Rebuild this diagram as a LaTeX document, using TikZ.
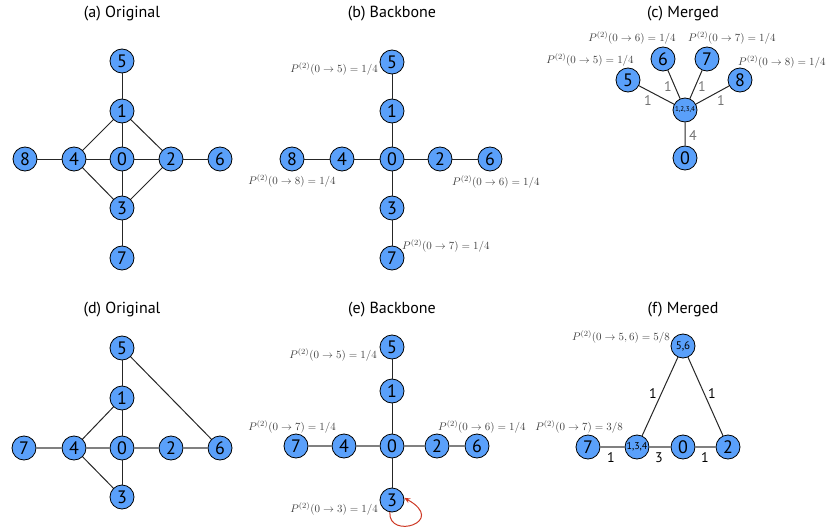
\documentclass[tikz,border=0pt]{standalone}
\usepackage{fontspec}
\setsansfont{PT Sans}
\usetikzlibrary{arrows.meta}
\definecolor{vcol}{RGB}{90,160,250}
\definecolor{loopcol}{RGB}{205,55,35}
\tikzset{
  % graph vertex
  vnode/.style={circle, draw=black, fill=vcol, line width=0.8pt, minimum size=24pt,
               inner sep=0pt, font=\sffamily\fontsize{18}{18}\selectfont},
  % merged vertex, small label
  mnode/.style={vnode, font=\sffamily\fontsize{#1}{#1}\selectfont},
  mnode/.default={9},
  % plain edge
  edge/.style={line width=1pt, black!85},
  % backbone edge
  hedge/.style={line width=2pt, black!50},
  % panel title
  ptitle/.style={font=\sffamily\fontsize{16}{16}\selectfont},
  % probability label
  plabel/.style={font=\fontsize{11}{11}\selectfont, text=black!75, inner sep=0pt},
  % edge weight
  wlabel/.style={font=\sffamily\fontsize{14}{14}\selectfont, inner sep=0pt, #1},
  wlabel/.default={black},
}

\begin{document}
\begin{tikzpicture}[x=1pt, y=-1pt]
  \useasboundingbox (0,0) rectangle (828,527);

  % ---- (a) original
  \node[ptitle] (ta) at (122,14) {(a) Original};
  \node[vnode] (a0) at (122,159) {0};
  \node[vnode] (a1) at (122,111) {1};
  \node[vnode] (a5) at (122,61) {5};
  \node[vnode] (a3) at (122,208) {3};
  \node[vnode] (a7) at (122,258) {7};
  \node[vnode] (a4) at (74,159) {4};
  \node[vnode] (a8) at (25,159) {8};
  \node[vnode] (a2) at (171,159) {2};
  \node[vnode] (a6) at (220,159) {6};
  \draw[edge] (a5) -- (a1) (a1) -- (a0) (a0) -- (a3) (a3) -- (a7);
  \draw[edge] (a8) -- (a4) (a4) -- (a0) (a0) -- (a2) (a2) -- (a6);
  \draw[edge] (a1) -- (a4) (a1) -- (a2) (a3) -- (a4) (a3) -- (a2);

  % ---- (b) backbone
  \node[ptitle] (tb) at (392,14) {(b) Backbone};
  \node[vnode] (b0) at (392,159) {0};
  \node[vnode] (b1) at (392,111) {1};
  \node[vnode] (b5) at (392,62) {5};
  \node[vnode] (b3) at (392,208) {3};
  \node[vnode] (b7) at (392,258) {7};
  \node[vnode] (b4) at (342,159) {4};
  \node[vnode] (b8) at (292,159) {8};
  \node[vnode] (b2) at (440,159) {2};
  \node[vnode] (b6) at (490,159) {6};
  \draw[edge] (b5) -- (b1) (b1) -- (b0) (b0) -- (b3) (b3) -- (b7);
  \draw[edge] (b8) -- (b4) (b4) -- (b0) (b0) -- (b2) (b2) -- (b6);
  \node[plabel, anchor=east] (pb5) at (378,69) {$P^{(2)}(0\to5)=1/4$};
  \node[plabel] (pb8) at (292,181) {$P^{(2)}(0\to8)=1/4$};
  \node[plabel, anchor=west] (pb6) at (452,182) {$P^{(2)}(0\to6)=1/4$};
  \node[plabel, anchor=west] (pb7) at (402,246) {$P^{(2)}(0\to7)=1/4$};

  % ---- (c) merged
  \node[ptitle] (tc) at (683,14) {(c) Merged};
  \node[vnode] (c0) at (685,158) {0};
  \node[mnode=7] (cm) at (685,110) {1,2,3,4};
  \node[vnode] (c5) at (628,80) {5};
  \node[vnode] (c6) at (663,59) {6};
  \node[vnode] (c7) at (707,59) {7};
  \node[vnode] (c8) at (740,80) {8};
  \draw[edge] (cm) -- (c0) (cm) -- (c5) (cm) -- (c6) (cm) -- (c7) (cm) -- (c8);
  \node[wlabel=black!55] (wc0) at (693,136) {4};
  \node[wlabel=black!55] (wc5) at (648,101) {1};
  \node[wlabel=black!55] (wc6) at (668,87) {1};
  \node[wlabel=black!55] (wc7) at (702,87) {1};
  \node[wlabel=black!55] (wc8) at (721,101) {1};
  \node[plabel] (pc6) at (632,38) {$P^{(2)}(0\to6)=1/4$};
  \node[plabel, anchor=west] (pc7) at (688,38) {$P^{(2)}(0\to7)=1/4$};
  \node[plabel] (pc5) at (590,60) {$P^{(2)}(0\to5)=1/4$};
  \node[plabel, anchor=west] (pc8) at (738,62) {$P^{(2)}(0\to8)=1/4$};

  % ---- (d) original
  \node[ptitle] (td) at (122,310) {(d) Original};
  \node[vnode] (d0) at (122,448) {0};
  \node[vnode] (d1) at (122,398) {1};
  \node[vnode] (d5) at (122,348) {5};
  \node[vnode] (d3) at (122,497) {3};
  \node[vnode] (d4) at (74,448) {4};
  \node[vnode] (d7) at (24,448) {7};
  \node[vnode] (d2) at (171,448) {2};
  \node[vnode] (d6) at (220,448) {6};
  \draw[edge] (d5) -- (d1) (d1) -- (d0) (d0) -- (d3);
  \draw[edge] (d1) -- (d4) (d4) -- (d3) (d5) -- (d6);
  \draw[hedge] (d7) -- (d4) (d4) -- (d0) (d0) -- (d2) (d2) -- (d6);

  % ---- (e) backbone
  \node[ptitle] (te) at (392,310) {(e) Backbone};
  \node[vnode] (e0) at (392,446) {0};
  \node[vnode] (e1) at (392,391) {1};
  \node[vnode] (e5) at (392,347) {5};
  \node[vnode] (e3) at (392,500) {3};
  \node[vnode] (e4) at (344,446) {4};
  \node[vnode] (e7) at (296,446) {7};
  \node[vnode] (e2) at (437,446) {2};
  \node[vnode] (e6) at (477,446) {6};
  \draw[edge] (e5) -- (e1) (e1) -- (e0) (e0) -- (e3);
  \draw[hedge] (e7) -- (e4) (e4) -- (e0) (e0) -- (e2) (e2) -- (e6);
  \draw[loopcol, line width=1pt, -{Stealth[length=6pt,width=5pt]}]
    (e3.-100) .. controls (388,540) and (448,522) .. (e3.10);
  \node[plabel, anchor=east] (pe5) at (377,355) {$P^{(2)}(0\to5)=1/4$};
  \node[plabel, anchor=east] (pe7) at (336,427) {$P^{(2)}(0\to7)=1/4$};
  \node[plabel, anchor=west] (pe6) at (438,427) {$P^{(2)}(0\to6)=1/4$};
  \node[plabel, anchor=east] (pe3) at (378,509) {$P^{(2)}(0\to3)=1/4$};

  % ---- (f) merged
  \node[ptitle] (tf) at (683,310) {(f) Merged};
  \node[mnode=11] (f56) at (683,346) {5,6};
  \node[vnode] (f7) at (588,447) {7};
  \node[mnode=10] (fm) at (637,447) {1,3,4};
  \node[vnode] (f0) at (683,447) {0};
  \node[vnode] (f2) at (728,447) {2};
  \draw[edge] (fm) -- (f56) (f56) -- (f2);
  \draw[hedge] (f7) -- (fm) (fm) -- (f0) (f0) -- (f2);
  \node[wlabel] (wf1) at (653,394) {1};
  \node[wlabel] (wf2) at (712,394) {1};
  \node[wlabel] (wf3) at (611,458) {1};
  \node[wlabel] (wf4) at (659,458) {3};
  \node[wlabel] (wf5) at (705,458) {1};
  \node[plabel, anchor=east] (pf56) at (670,337) {$P^{(2)}(0\to5,6)=5/8$};
  \node[plabel, anchor=east] (pf7) at (623,427) {$P^{(2)}(0\to7)=3/8$};
\end{tikzpicture}
\end{document}
